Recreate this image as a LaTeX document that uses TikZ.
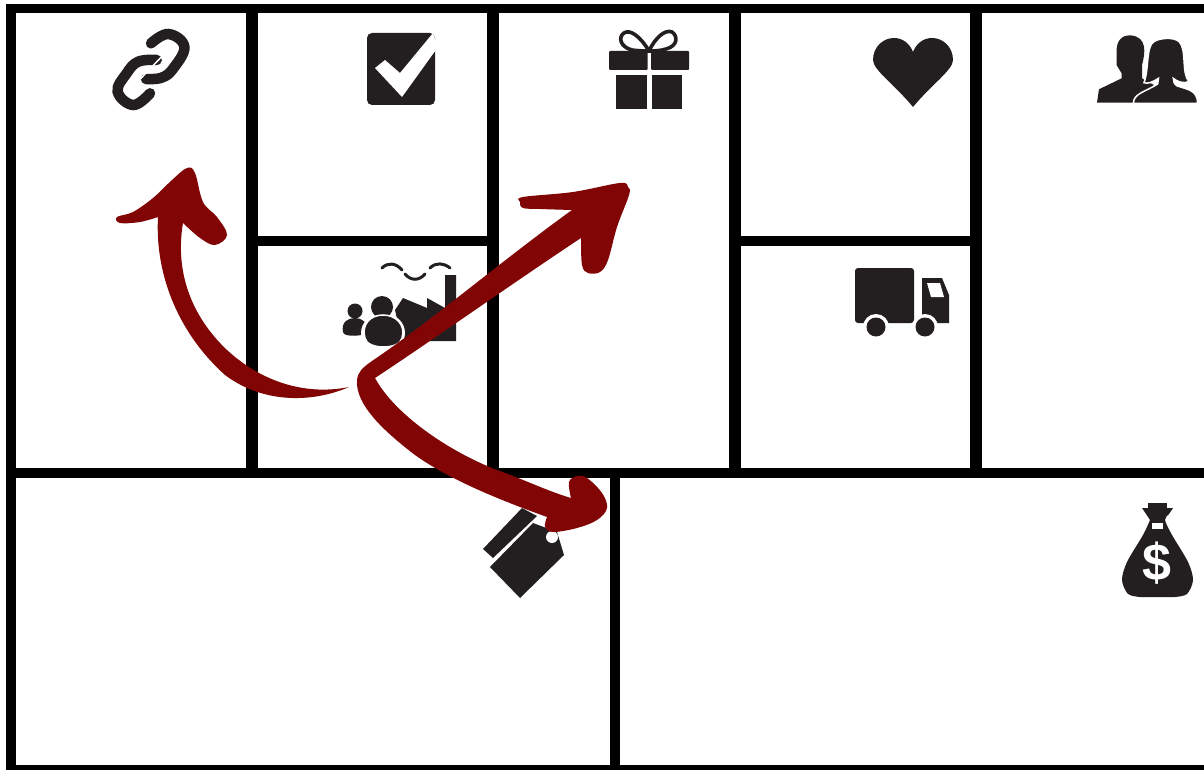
\documentclass[tikz,border=0pt]{standalone}
\usepackage{fontspec}
\setmainfont{Liberation Sans}
\definecolor{iconcol}{HTML}{231F20}
\definecolor{redcol}{HTML}{820505}
\tikzset{
  gridline/.style={draw=black,line width=11.5pt},
  thingrid/.style={draw=black,line width=9.5pt},
  icon/.style={fill=iconcol},
  knock/.style={fill=white},
  redarrow/.style={fill=redcol},
  linkstroke/.style={draw=iconcol,line width=10.5pt,line cap=round},
  smokeline/.style={draw=iconcol,line width=3pt,line cap=round},
  smoothed/.style={smooth,tension=0.6}
}
\begin{document}
\begin{tikzpicture}[x=1pt,y=-1pt]
\useasboundingbox (0,0) rectangle (1204,770);
\fill[white] (0,0) rectangle (1204,770);
% grid
\draw[thingrid] (1204,8.5) -- (11,8.5) -- (11,770);
\draw[thingrid] (11,473) -- (1204,473);
\draw[thingrid] (11,770) -- (1204,770);
\draw[gridline] (252,9) -- (252,473);
\draw[gridline] (493,9) -- (493,473);
\draw[gridline] (735,9) -- (735,473);
\draw[gridline] (976,9) -- (976,473);
\draw[thingrid] (615,473) -- (615,770);
\draw[thingrid] (252,241) -- (493,241);
\draw[thingrid] (735,241) -- (976,241);
% link
\begin{scope}[shift={(90,10)},scale=1/3]
\draw[linkstroke] plot[smooth,tension=0.7] coordinates {(183,100) (235,72) (283,110) (250,175) (215,203) (168,207)};
\draw[linkstroke] plot[smooth,tension=0.7] coordinates {(180,250) (130,285) (83,245) (110,190) (145,155) (200,150)};
\draw[white,line width=1.5pt] (150,208) -- (215,140);
\end{scope}
% check box
\fill[icon,rounded corners=5pt] (367,33) rectangle (435,105);
\fill[knock] (375,68) -- (385,60) -- (400,73) -- (433,33) -- (438,47) -- (402,97) -- cycle;
% gift
\fill[icon,rounded corners=1pt] (609,51) rectangle (647.5,70);
\fill[icon,rounded corners=1pt] (651,51) rectangle (689,70);
\fill[icon] (616,75) rectangle (646.5,109);
\fill[icon] (651.5,75) rectangle (682,109);
\draw[iconcol,line width=3.6pt] (649,51) .. controls (640,36) and (630,29) .. (624,33) .. controls (618,37) and (620,47) .. (632,50) .. controls (640,51) and (645,51) .. (649,51) .. controls (653,51) and (660,51) .. (666,49) .. controls (678,46) and (678,36) .. (672,32) .. controls (665,29) and (655,38) .. (649,51);
% heart
\fill[icon] (913,107) .. controls (895,85) and (873,70) .. (873,60) .. controls (873,47) and (883,38) .. (894,38) .. controls (903,38) and (910,44) .. (913,52) .. controls (916,44) and (923,38) .. (932,38) .. controls (943,38) and (953,47) .. (953,60) .. controls (953,70) and (931,85) .. (913,107) -- cycle;
% people
\begin{scope}[shift={(590,10)},xscale=0.3915,yscale=0.3333]
\fill[icon] (1380,76) .. controls (1355,76) and (1345,95) .. (1345,125) -- (1345,165) -- (1358,190) -- (1358,205) -- (1300,238) -- (1295,278) -- (1400,278) -- (1440,225) -- (1410,205) -- (1410,165) .. controls (1418,130) and (1425,80) .. (1380,76) -- cycle;
\filldraw[iconcol,draw=white,line width=1.5pt] (1388,280) .. controls (1388,250) and (1420,245) .. (1450,222) -- (1452,205) .. controls (1435,218) and (1425,222) .. (1415,218) .. controls (1428,180) and (1420,110) .. (1440,95) .. controls (1455,84) and (1490,80) .. (1505,95) .. controls (1525,120) and (1510,190) .. (1530,215) .. controls (1515,222) and (1500,215) .. (1490,205) .. controls (1490,215) and (1492,222) .. (1500,228) .. controls (1525,238) and (1552,240) .. (1552,280) -- cycle;
\end{scope}
% truck
\fill[icon,rounded corners=3pt] (855,268) rectangle (914,323);
\fill[icon] (922,278) -- (942,278) -- (949,295) -- (949,323) -- (922,323) -- cycle;
\fill[knock] (927,283) -- (940,283) -- (944,297) -- (931,297) -- cycle;
\fill[knock] (876,327) circle (13);
\fill[knock] (925,327) circle (13);
\fill[knock] (850,327.5) rectangle (955,345);
\fill[icon] (876,327) circle (9.5);
\fill[icon] (925,327) circle (9.5);
% factory and people
\fill[icon] (395,310) -- (403,298) -- (427,308) -- (427,298) -- (445,308) -- (445,275) -- (456,275) -- (456,341) -- (402,341) -- cycle;
\draw[smokeline] (382,268) .. controls (388,262) and (396,263) .. (402,270);
\draw[smokeline] (405,274) .. controls (411,281) and (419,281) .. (425,274);
\draw[smokeline] (430,268) .. controls (436,262) and (444,263) .. (450,268);
\fill[icon] (355,311) circle (7.5);
\fill[icon] (343,332) .. controls (341,322) and (348,318) .. (355,318) .. controls (362,318) and (368,322) .. (367,332) .. controls (367,336) and (343,338) .. (343,332) -- cycle;
\fill[knock] (383,333) ellipse (22 and 20);
\fill[icon] (382,307) circle (11);
\filldraw[iconcol,draw=white,line width=1.5pt] (365,338) .. controls (361,325) and (370,315) .. (383,315) .. controls (396,315) and (406,325) .. (402,338) .. controls (400,350) and (367,350) .. (365,338) -- cycle;
% tag
\fill[icon] (483,549) -- (522,508) -- (537,516) -- (493,558) -- cycle;
\fill[icon] (490,567) -- (533,523) -- (557,532) -- (564,555) -- (520,598) -- cycle;
\fill[knock] (552,537) circle (6);
% money bag
\fill[icon] (1148,503) rectangle (1167,510);
\fill[icon] plot[smooth,tension=0.5] coordinates {(1150,520) (1146,514) (1142,508)}
  -- (1173,508) -- plot[smooth,tension=0.5] coordinates {(1173,508) (1169,514) (1165,520) (1172,535) (1188,562) (1193,580) (1187,594) (1175,597)}
  -- plot[smooth,tension=0.5] coordinates {(1140,597) (1128,594) (1122,580) (1127,562) (1143,535) (1150,520)} -- cycle;
\fill[knock] (1152,523) rectangle (1163,529);
\node[text=white,font=\bfseries\fontsize{52}{52}\selectfont,inner sep=0pt] (dollar) at (1157,563) {\$};
% red arrow left
\fill[redarrow] (349,387) .. controls (310,395) and (265,385) .. (227,350) .. controls (190,315) and (175,270) .. (183,223)
 -- plot[smoothed] coordinates {(183,223) (200,238) (215,245) (227,235) (217,217) (203,202) (195,173) (187,168) (172,180) (153,198) (133,212) (117,217) (120,223) (140,222) (158,217)}
 .. controls (155,270) and (175,330) .. (225,375) .. controls (265,405) and (315,402) .. (349,387) -- cycle;
% red arrows right
\fill[redarrow] (357,380) .. controls (358,372) and (362,368) .. (372,361) .. controls (430,322) and (500,262) .. (572,210)
 -- plot[smoothed] coordinates {(572,210) (540,209) (523,208) (520,202) (523,197) (573,192) (620,183) (628,187) (629,195) (617,227) (608,260) (600,272) (588,273) (582,265) (581,238)}
 .. controls (510,285) and (440,335) .. (375,378)
 .. controls (395,415) and (450,452) .. (497,470) .. controls (525,480) and (550,492) .. (571,498)
 -- plot[smoothed] coordinates {(571,498) (569,482) (577,476) (587,478) (602,493) (607,508) (597,520) (577,528) (553,532) (545,527) (547,517)}
 .. controls (500,500) and (450,480) .. (415,455) .. controls (385,432) and (355,405) .. (357,380) -- cycle;
\end{tikzpicture}
\end{document}
